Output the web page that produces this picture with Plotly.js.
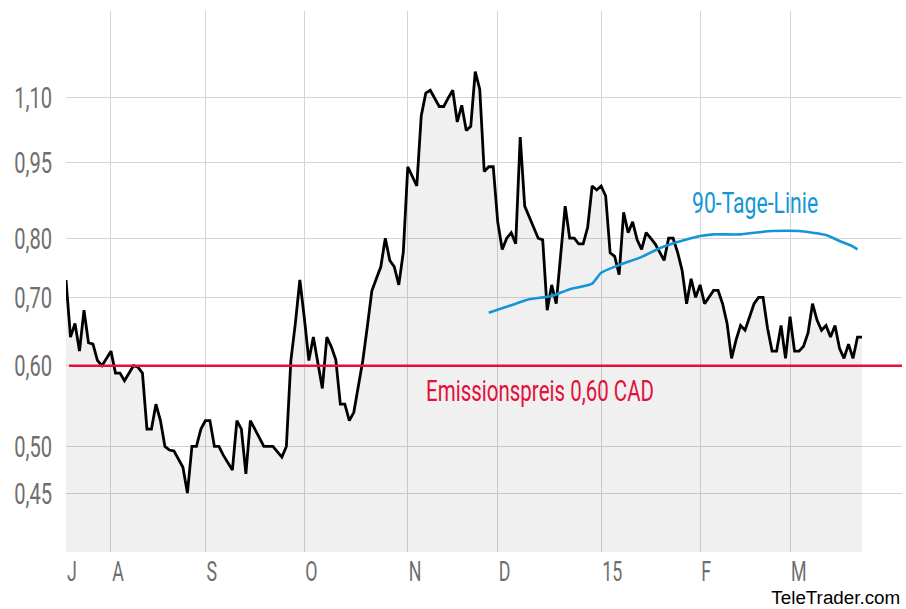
<!DOCTYPE html>
<html>
<head>
<meta charset="utf-8">
<script src="https://cdn.plot.ly/plotly-3.0.1.min.js"></script>
<style>
  html, body { margin: 0; padding: 0; background: #ffffff; }
  #chart { width: 906px; height: 609px; }
</style>
</head>
<body>
<div id="chart"></div>
<script>
// ---- data ----
const priceDates = [
  '2014-07-18','2014-07-21','2014-07-22','2014-07-23','2014-07-24','2014-07-25','2014-07-28','2014-07-29','2014-07-30','2014-08-01',
  '2014-08-04','2014-08-05','2014-08-06','2014-08-08','2014-08-11','2014-08-12','2014-08-13','2014-08-14','2014-08-15','2014-08-18',
  '2014-08-19','2014-08-20','2014-08-21','2014-08-25','2014-08-26','2014-08-27','2014-08-28','2014-08-29','2014-09-01','2014-09-02',
  '2014-09-03','2014-09-04','2014-09-05','2014-09-09','2014-09-10','2014-09-11','2014-09-12','2014-09-15','2014-09-16','2014-09-17',
  '2014-09-18','2014-09-22','2014-09-24','2014-09-25','2014-09-26','2014-09-29','2014-09-30','2014-10-01','2014-10-02','2014-10-03',
  '2014-10-07','2014-10-08','2014-10-09','2014-10-10','2014-10-13','2014-10-14','2014-10-15','2014-10-16','2014-10-20','2014-10-21',
  '2014-10-22','2014-10-23','2014-10-24','2014-10-27','2014-10-28','2014-10-29','2014-10-30','2014-10-31','2014-11-03','2014-11-05',
  '2014-11-06','2014-11-07','2014-11-10','2014-11-12','2014-11-13','2014-11-14','2014-11-17','2014-11-18','2014-11-19','2014-11-20',
  '2014-11-21','2014-11-24','2014-11-25','2014-11-26','2014-11-27','2014-11-28','2014-12-01','2014-12-02','2014-12-03','2014-12-04',
  '2014-12-05','2014-12-08','2014-12-09','2014-12-12','2014-12-15','2014-12-16','2014-12-17','2014-12-18','2014-12-22','2014-12-23',
  '2014-12-24','2014-12-25','2014-12-26','2014-12-29','2014-12-30','2014-12-31','2015-01-01','2015-01-02','2015-01-05','2015-01-06',
  '2015-01-07','2015-01-08','2015-01-09','2015-01-12','2015-01-13','2015-01-14','2015-01-15','2015-01-16','2015-01-19','2015-01-21',
  '2015-01-22','2015-01-23','2015-01-26','2015-01-27','2015-01-28','2015-01-29','2015-01-30','2015-02-02','2015-02-03','2015-02-05',
  '2015-02-06','2015-02-09','2015-02-10','2015-02-11','2015-02-12','2015-02-13','2015-02-16','2015-02-18','2015-02-19','2015-02-20',
  '2015-02-23','2015-02-24','2015-02-25','2015-02-26','2015-02-27','2015-03-02','2015-03-03','2015-03-04','2015-03-05','2015-03-06',
  '2015-03-09','2015-03-10','2015-03-11','2015-03-12','2015-03-13','2015-03-16','2015-03-17','2015-03-18','2015-03-19','2015-03-20',
  '2015-03-23','2015-03-24'
];
const priceValues = [
  0.728,0.64,0.66,0.62,0.68,0.632,0.63,0.607,0.60,0.62,
  0.59,0.59,0.58,0.60,0.598,0.59,0.52,0.52,0.55,0.53,
  0.50,0.496,0.495,0.477,0.45,0.50,0.50,0.52,0.53,0.53,
  0.50,0.50,0.49,0.474,0.53,0.52,0.47,0.53,0.52,0.51,
  0.50,0.50,0.488,0.50,0.607,0.66,0.728,0.668,0.607,0.64,
  0.57,0.64,0.626,0.608,0.55,0.55,0.53,0.54,0.607,0.655,
  0.71,0.73,0.75,0.80,0.761,0.75,0.72,0.775,0.94,0.90,
  1.055,1.11,1.117,1.077,1.077,1.098,1.117,1.04,1.08,1.02,
  1.03,1.165,1.12,0.93,0.94,0.94,0.83,0.78,0.80,0.81,
  0.79,1.005,0.86,0.80,0.797,0.68,0.72,0.69,0.86,0.80,
  0.80,0.79,0.79,0.82,0.90,0.892,0.90,0.88,0.774,0.768,
  0.737,0.848,0.81,0.83,0.797,0.78,0.81,0.80,0.79,0.761,
  0.80,0.80,0.775,0.744,0.69,0.73,0.70,0.72,0.69,0.711,
  0.711,0.69,0.66,0.61,0.636,0.657,0.65,0.69,0.70,0.70,
  0.653,0.62,0.62,0.657,0.61,0.67,0.62,0.62,0.627,0.646,
  0.69,0.665,0.65,0.657,0.64,0.657,0.624,0.61,0.63,0.61,
  0.64,0.64
];
const maDates = [
  '2014-11-27','2014-12-05','2014-12-10','2014-12-15','2014-12-17','2014-12-23','2014-12-30','2015-01-01',
  '2015-01-07','2015-01-14','2015-01-20','2015-01-26','2015-02-02','2015-02-05','2015-02-09','2015-02-13',
  '2015-02-18','2015-02-24','2015-03-04','2015-03-09','2015-03-12','2015-03-17','2015-03-20','2015-03-23'
];
const maValues = [
  0.676,0.69,0.697,0.70,0.702,0.713,0.722,0.74,
  0.753,0.767,0.782,0.793,0.804,0.807,0.807,0.807,
  0.81,0.813,0.813,0.81,0.806,0.795,0.785,0.78
];
const issuePrice = 0.60;
const xTickDates = ['2014-07-18','2014-08-01','2014-09-01','2014-10-01','2014-11-03','2014-12-01','2015-01-01','2015-02-02','2015-03-02'];
const xTickLabels = ['J','A','S','O','N','D','15','F','M'];
const yTickValues = [0.45, 0.50, 0.60, 0.70, 0.80, 0.95, 1.10];
const yTickLabels = ['0,45','0,50','0,60','0,70','0,80','0,95','1,10'];
const xRange = ['2014-07-18', '2015-04-03 21:30'];
const yRange = [0.394, 1.336];
const fillBase = 0.30;

const cond = 'Roboto, "Liberation Sans", sans-serif';

const traces = [
  { x: [xRange[0], priceDates[priceDates.length - 1]], y: [fillBase, fillBase],
    type: 'scatter', mode: 'lines', line: { width: 0, color: 'rgba(0,0,0,0)' },
    hoverinfo: 'skip', showlegend: false },
  { x: priceDates, y: priceValues, type: 'scatter', mode: 'lines',
    fill: 'tonexty', fillcolor: 'rgba(0,0,0,0.06)',
    line: { color: '#000000', width: 2.8 }, showlegend: false },
  { x: ['2014-07-18 16:00', xRange[1]], y: [issuePrice, issuePrice], type: 'scatter', mode: 'lines',
    line: { color: '#e2103b', width: 2.5 }, showlegend: false },
  { x: maDates, y: maValues, type: 'scatter', mode: 'lines',
    line: { color: '#1496d6', width: 2.6, shape: 'spline', smoothing: 0.6 }, showlegend: false }
];

const layout = {
  width: 906, height: 609,
  margin: { l: 66, r: 4, t: 11, b: 57 },
  paper_bgcolor: '#ffffff', plot_bgcolor: '#ffffff',
  showlegend: false,
  xaxis: {
    type: 'date', range: xRange,
    rangebreaks: [{ bounds: ['sat', 'mon'] }],
    tickmode: 'array', tickvals: xTickDates, ticktext: xTickLabels,
    showgrid: true, gridcolor: '#d4d4d4', gridwidth: 1,
    zeroline: false, showline: false, ticks: '',
    ticklabelstandoff: 1,
    tickfont: { family: cond, size: 27, color: '#6e6e6e' }
  },
  yaxis: {
    type: 'log', range: [Math.log10(yRange[0]), Math.log10(yRange[1])],
    tickmode: 'array', tickvals: yTickValues, ticktext: yTickLabels,
    showgrid: true, gridcolor: '#d4d4d4', gridwidth: 1,
    zeroline: false, showline: false, ticks: '',
    ticklabelstandoff: 13,
    tickfont: { family: cond, size: 30, color: '#6e6e6e' }
  },
  annotations: [
    { text: 'Emissionspreis 0,60 CAD', xref: 'paper', yref: 'paper', x: 0.428, y: 0.2975,
      xanchor: 'left', yanchor: 'middle', showarrow: false,
      font: { family: cond, size: 29.5, color: '#e2103b' } },
    { text: '90-Tage-Linie', xref: 'paper', yref: 'paper', x: 0.7465, y: 0.6449,
      xanchor: 'left', yanchor: 'middle', showarrow: false,
      font: { family: cond, size: 29, color: '#1496d6' } },
    { text: 'TeleTrader.com', xref: 'paper', yref: 'paper', x: 1, y: -0.1054, xshift: -1,
      xanchor: 'right', yanchor: 'bottom', showarrow: false, borderpad: 0,
      font: { family: '"Liberation Sans", Arial, sans-serif', size: 19, color: '#000000' } }
  ]
};

// narrow the text horizontally to imitate the condensed face of the original
function squeeze(gd, sel, s, mode) {
  gd.querySelectorAll(sel).forEach(function (t) {
    const b = t.getBBox();
    const tr = t.getAttribute('transform') || '';
    let ax, tx;
    if (mode === 'right') { ax = b.x + b.width; tx = ax; }
    else if (mode === 'tickleft') { ax = b.x; tx = b.x + b.width / 2 + 1; }
    else { ax = b.x; tx = b.x; }
    t.setAttribute('transform', tr + ' translate(' + tx + ',0) scale(' + s + ',1) translate(' + (-ax) + ',0)');
  });
}

Plotly.newPlot('chart', traces, layout, { displayModeBar: false, staticPlot: true }).then(function (gd) {
  squeeze(gd, '.ytick text', 0.67, 'right');
  squeeze(gd, '.xtick text', 0.66, 'tickleft');
  const ann = gd.querySelectorAll('.annotation-text');
  const scales = [0.695, 0.73, 0.99];
  const modes = ['left', 'left', 'right'];
  ann.forEach(function (t, i) {
    const b = t.getBBox();
    const tr = t.getAttribute('transform') || '';
    const ax = modes[i] === 'right' ? b.x + b.width : b.x;
    t.setAttribute('transform', tr + ' translate(' + ax + ',0) scale(' + scales[i] + ',1) translate(' + (-ax) + ',0)');
  });
});
</script>
</body>
</html>
